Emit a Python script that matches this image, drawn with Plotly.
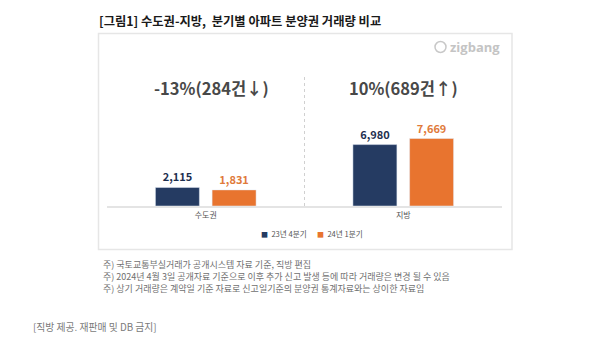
import plotly.graph_objects as go

categories = ["수도권", "지방"]
series_names = ["23년 4분기", "24년 1분기"]
q4_2023 = [2115, 6980]
q1_2024 = [1831, 7669]
bar_colors = ["#253b62", "#e8742f"]
label_colors = ["#1e2f4f", "#e07a3a"]

title_text = "[그림1] 수도권-지방,  분기별 아파트 분양권 거래량 비교"
notes = [
    "주) 국토교통부실거래가 공개시스템 자료 기준, 직방 편집",
    "주) 2024년 4월 3일 공개자료 기준으로 이후 추가 신고 발생 등에 따라 거래량은 변경 될 수 있음",
    "주) 상기 거래량은 계약일 기준 자료로 신고일기준의 분양권 통계자료와는 상이한 자료임",
]
footer = "[직방 제공. 재판매 및 DB 금지]"

W, H = 605, 358
L, R, T, B = 107, 103, 74, 152
PW, PH = W - L - R, H - T - B

def px(xp):
    return (xp - L) / PW

def py(yp):
    return (H - B - yp) / PH

FONT = "Noto Sans CJK KR"

fig = go.Figure()
for name, vals, col, lcol in zip(series_names, [q4_2023, q1_2024], bar_colors, label_colors):
    fig.add_trace(go.Bar(
        x=categories, y=vals, name=name, marker_color=col, showlegend=False,
        text=[f"{v:,}" for v in vals], textposition="outside",
        textfont=dict(size=11, color=lcol, family=FONT, weight="bold"),
        cliponaxis=False,
    ))

annotations = []
# change headers computed from data
for c, a, b, xs in zip(categories, q4_2023, q1_2024, [6, 0]):
    diff = b - a
    pct = round(diff / a * 100)
    arrow = "↑" if diff > 0 else "↓"
    annotations.append(dict(
        x=c, xref="x", y=py(88), yref="paper", text=f"{pct}%({abs(diff)}건{arrow})",
        showarrow=False, font=dict(size=16.5, color="#484848", family=FONT, weight="bold"),
        xanchor="center", yanchor="middle", xshift=xs,
    ))

# legend entries
for name, col, xl in zip(series_names, bar_colors, [258.5, 314.5]):
    annotations.append(dict(
        x=px(xl), y=py(233), xref="paper", yref="paper", showarrow=False,
        xanchor="left", yanchor="middle",
        text=f"<span style='color:{col};font-size:7px'>■</span>  {name}",
        font=dict(size=7.6, color="#555", family=FONT),
    ))

annotations.append(dict(
    x=px(97), y=py(21), xref="paper", yref="paper", text=title_text, showarrow=False,
    xanchor="left", yanchor="middle",
    font=dict(size=12.3, color="#1a1a1a", family=FONT, weight="bold"),
))
for i, n in enumerate(notes):
    annotations.append(dict(
        x=px(101), y=py(264 + i * 12.3), xref="paper", yref="paper", text=n, showarrow=False,
        xanchor="left", yanchor="middle", font=dict(size=9, color="#707070", family=FONT),
    ))
annotations.append(dict(
    x=px(31), y=py(327), xref="paper", yref="paper", text=footer, showarrow=False,
    xanchor="left", yanchor="middle", font=dict(size=9.8, color="#7a7a7a", family=FONT),
))
annotations.append(dict(
    x=px(502), y=py(47), xref="paper", yref="paper", text="zigbang", showarrow=False,
    xanchor="right", yanchor="middle", font=dict(size=13, color="#c4c4c4", family="Open Sans", weight="bold"),
))

shapes = [
    dict(type="rect", xref="paper", yref="paper", x0=px(98.5), x1=px(512), y0=py(249.5), y1=py(33.5),
         line=dict(color="#e6e6e6", width=1.5), fillcolor="rgba(0,0,0,0)", layer="below"),
    dict(type="line", xref="x", yref="paper", x0=0.5, x1=0.5, y0=0, y1=py(75),
         line=dict(color="#d0d0d0", width=1, dash="dot")),
    dict(type="circle", xref="paper", yref="paper", x0=px(435), x1=px(446), y0=py(52.5), y1=py(41.5),
         line=dict(color="#c8c8c8", width=1.5)),
]

fig.update_layout(
    width=W, height=H, margin=dict(l=L, r=R, t=T, b=B),
    paper_bgcolor="white", plot_bgcolor="white",
    barmode="group", bargap=0.426, bargroupgap=0.224,
    font=dict(family=FONT, color="#555"), showlegend=False,
    xaxis=dict(showline=True, linecolor="#e4e4e4", linewidth=2, showgrid=False, ticks="",
               tickfont=dict(size=8, color="#555"), range=[-0.5, 1.5], fixedrange=True),
    yaxis=dict(range=[0, 15000], visible=False, showgrid=False, zeroline=False, fixedrange=True),
    annotations=annotations, shapes=shapes,
)

fig.write_html("out.html", config={"displayModeBar": False},
               post_script="document.body.style.margin='0px';")
